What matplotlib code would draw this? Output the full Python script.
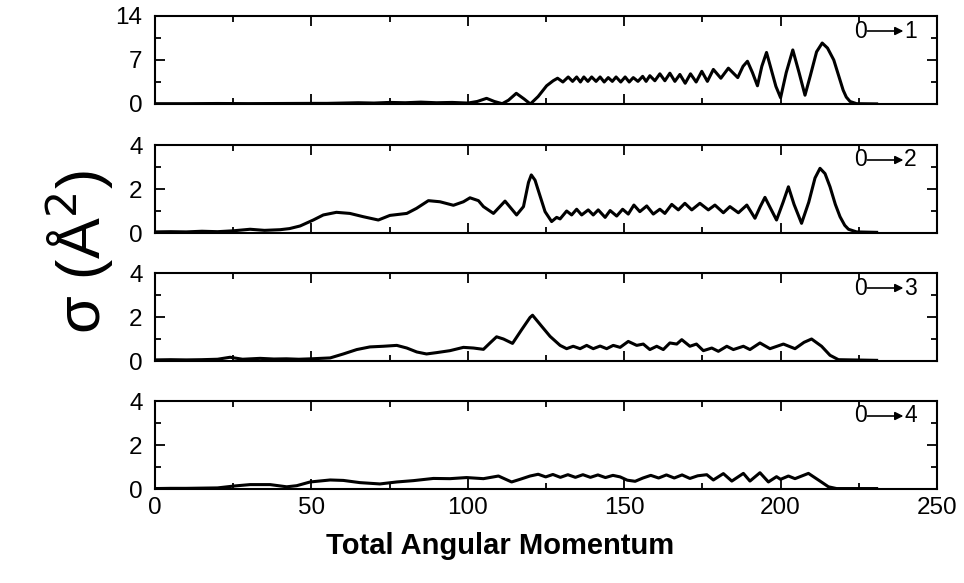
import matplotlib
matplotlib.use("Agg")
import matplotlib.pyplot as plt
from matplotlib.ticker import MultipleLocator

plt.rcParams['font.family'] = ['Liberation Sans', 'DejaVu Sans']

# ---------------- data ----------------
x1 = [0, 10, 20, 30, 40, 50, 55, 60, 65, 70, 75, 80, 85, 90, 95, 100, 103, 106, 108.5, 111,
      113, 115.5, 118, 120, 122.5, 125.2, 127.3,
      128.7, 130.4, 132.1, 133.5, 134.8, 136.0, 137.1, 138.4, 139.6, 141.0, 142.3, 143.6,
      144.9, 146.2, 147.4, 148.9, 150.3, 151.6, 152.9, 154.4, 155.9, 157.0, 158.2, 159.8,
      161.4, 163.0, 164.6, 166.2, 167.8, 169.5, 171.2, 173.0, 174.8, 176.6, 178.5, 180.9,
      183.3, 186.3, 188.0, 189.4, 191.0, 192.6, 194.0, 195.5, 197.0, 198.5, 200.0, 201.8,
      203.9, 205.9, 207.8, 209.5, 211.5, 213.3, 215.0, 217.0, 219.0, 220.0, 221.0, 222.2,
      224.3, 230.7]
y1 = [0.05, 0.05, 0.08, 0.06, 0.08, 0.1, 0.1, 0.15, 0.2, 0.15, 0.25, 0.2, 0.3, 0.2, 0.25, 0.15,
      0.4, 0.9, 0.4, 0.05, 0.6, 1.7, 0.8, 0.0, 1.2, 2.9, 3.7,
      4.1, 3.5, 4.3, 3.6, 4.3, 3.5, 4.3, 3.6, 4.3, 3.6, 4.3, 3.5,
      4.2, 3.6, 4.3, 3.5, 4.3, 3.5, 4.2, 3.6, 4.4, 3.6, 4.5, 3.7,
      4.8, 3.7, 4.9, 3.6, 4.7, 3.3, 4.8, 3.5, 5.2, 3.6, 5.5, 4.1,
      5.7, 4.2, 6.0, 6.8, 5.0, 2.9, 6.0, 8.2, 5.5, 2.8, 1.0, 5.0,
      8.6, 5.0, 1.4, 4.5, 8.3, 9.7, 8.9, 7.0, 3.8, 2.2, 1.1, 0.4,
      0.05, 0.02]

x2 = [0, 5, 10, 15, 20, 25, 30.4, 35, 40, 43, 46.4, 50.6, 53.8, 58, 62.3, 66.6, 71.4, 75.1,
      80.5, 83.6, 87.4, 91.1, 95.4, 98.6, 100.7, 103.4, 105, 108.2, 111.9, 115.6, 117.8,
      119.4, 120.3, 121.5, 122.5, 124.7, 126.8, 128.4, 129.5, 131.6, 133.2, 134.8, 136.4,
      138.5, 140.1, 141.7, 143.9, 145.5, 147.6, 149.5, 151.3, 153.1, 155, 157.2, 159.3,
      161.4, 163, 165.2, 167.3, 169.4, 171.6, 174.2, 176.9, 179, 181.7, 183.8, 186.5,
      189.2, 191.8, 193.5, 195, 196.5, 198.7, 200.8, 202.5, 204.3, 206.7, 209, 211, 212.6,
      214.2, 215.8, 217.5, 219, 220.5, 221.7, 224.3, 230.7]
y2 = [0.05, 0.06, 0.05, 0.08, 0.06, 0.1, 0.17, 0.12, 0.15, 0.2, 0.32, 0.59, 0.82, 0.94, 0.89,
      0.74, 0.59, 0.8, 0.89, 1.12, 1.47, 1.42, 1.26, 1.42, 1.6, 1.47, 1.2, 0.89, 1.45, 0.82,
      1.2, 2.3, 2.64, 2.4, 1.95, 0.97, 0.52, 0.71, 0.64, 1.0, 0.82, 1.08, 0.82, 1.05, 0.82,
      1.05, 0.71, 1.02, 0.77, 1.08, 0.86, 1.27, 0.97, 1.23, 0.86, 1.08, 0.89, 1.3, 1.05,
      1.35, 1.05, 1.35, 1.05, 1.27, 0.92, 1.2, 0.92, 1.27, 0.67, 1.2, 1.62, 1.2, 0.59, 1.4,
      2.1, 1.3, 0.44, 1.4, 2.5, 2.94, 2.7, 2.1, 1.3, 0.74, 0.35, 0.17, 0.05, 0.03]

x3 = [0, 5, 10, 15, 20, 24, 28, 33.6, 38, 42, 46, 50, 56, 60.2, 64.5, 68.7, 73, 77.3, 80.5,
      83.7, 86.8, 90, 94.3, 98.6, 101.8, 105, 107.1, 109.2, 111.4, 114.3, 117.2, 119.9,
      120.7, 123.6, 126.3, 129.5, 131.6, 133.7, 135.9, 138, 140.1, 142.3, 144.4, 146.5,
      148.7, 151.3, 154, 156.1, 158.2, 160.4, 162.5, 164.6, 166.8, 168.4, 171, 173.1,
      175.3, 178, 180.1, 182.8, 184.9, 188.1, 190.2, 193.4, 196.6, 200.9, 204.6, 207.5,
      209.9, 213.1, 215.8, 218.5, 230.7]
y3 = [0.05, 0.06, 0.05, 0.06, 0.08, 0.17, 0.08, 0.12, 0.09, 0.1, 0.08, 0.1, 0.14, 0.32, 0.52,
      0.64, 0.67, 0.71, 0.59, 0.41, 0.32, 0.38, 0.47, 0.62, 0.59, 0.53, 0.82, 1.1, 1.0, 0.8,
      1.42, 1.98, 2.08, 1.58, 1.12, 0.71, 0.56, 0.67, 0.56, 0.71, 0.56, 0.68, 0.56, 0.71,
      0.62, 0.89, 0.71, 0.77, 0.52, 0.67, 0.52, 0.82, 0.77, 0.97, 0.67, 0.77, 0.47, 0.59,
      0.44, 0.67, 0.52, 0.67, 0.52, 0.82, 0.56, 0.77, 0.56, 0.85, 1.0, 0.67, 0.26, 0.06,
      0.03]

x4 = [0, 5, 10, 15, 20, 25.6, 30.4, 36.8, 42.1, 45.3, 49.6, 56, 60.2, 65.5, 71.9, 77.3, 82.6,
      89, 94.3, 99.6, 105, 109.8, 114, 116.7, 119.9, 122.5, 124.9, 127.2, 129.6, 132, 134.4,
      136.8, 139.2, 141.6, 144, 146.4, 148.7, 151, 153.5, 156, 158.5, 161, 163.5, 166,
      168.5, 171, 173.5, 176.4, 178.5, 181.7, 184.4, 188.1, 190.2, 193.4, 196.1, 198.7,
      200, 202.5, 204.6, 208.9, 212.6, 215.3, 217.9, 230.7]
y4 = [0.02, 0.03, 0.03, 0.04, 0.05, 0.14, 0.2, 0.2, 0.1, 0.15, 0.32, 0.41, 0.39, 0.29, 0.23,
      0.32, 0.38, 0.48, 0.47, 0.52, 0.47, 0.59, 0.32, 0.44, 0.59, 0.67, 0.55, 0.66, 0.53,
      0.65, 0.53, 0.65, 0.53, 0.64, 0.52, 0.62, 0.55, 0.4, 0.35, 0.5, 0.62, 0.5, 0.64, 0.5,
      0.64, 0.48, 0.6, 0.65, 0.41, 0.7, 0.36, 0.71, 0.36, 0.74, 0.32, 0.56, 0.44, 0.59,
      0.47, 0.71, 0.36, 0.1, 0.02, 0.02]

series = [(x1, y1), (x2, y2), (x3, y3), (x4, y4)]
panel_labels = ["1", "2", "3", "4"]
y_max = [14, 4, 4, 4]
y_major = [7, 2, 2, 2]
x_ticks = [0, 50, 100, 150, 200, 250]

# ---------------- figure ----------------
fig = plt.figure(figsize=(9.64, 5.83), dpi=100)
W, H = 964.0, 583.0
left, right = 155, 937
bottoms = [104, 233, 361, 489]
ph = 88

for i, ((xs, ys), lab) in enumerate(zip(series, panel_labels)):
    ax = fig.add_axes([left / W, 1 - bottoms[i] / H, (right - left) / W, ph / H])
    ax.plot(xs, ys, color='black', lw=2.2, solid_joinstyle='round')
    ax.set_xlim(0, 250)
    ax.set_ylim(0, y_max[i])
    ax.xaxis.set_major_locator(MultipleLocator(50))
    ax.xaxis.set_minor_locator(MultipleLocator(25))
    ax.yaxis.set_major_locator(MultipleLocator(y_major[i]))
    ax.yaxis.set_minor_locator(MultipleLocator(y_major[i] / 2))
    ax.tick_params(which='both', direction='in', top=True, right=True, width=1.3,
                   labelsize=17.5)
    ax.tick_params(which='major', length=7.5)
    ax.tick_params(which='minor', length=4.5)
    ax.tick_params(axis='y', pad=9)
    ax.tick_params(axis='x', pad=6)
    for sp in ax.spines.values():
        sp.set_linewidth(1.5)
    if i < 3:
        ax.tick_params(labelbottom=False)
    else:
        ax.set_xticks(x_ticks)
    # transition label "0 -> n"
    ty = 1 - 15.0 / ph
    ax.text(0.902, ty, "0", transform=ax.transAxes, ha='center', va='center', fontsize=16.5)
    ax.annotate('', xy=(0.957, ty), xytext=(0.911, ty), xycoords='axes fraction',
                arrowprops=dict(arrowstyle='-|>', color='black', lw=1.2, mutation_scale=12,
                                shrinkA=0, shrinkB=0))
    ax.text(0.966, ty, lab, transform=ax.transAxes, ha='center', va='center', fontsize=16.5)

fig.text(80 / W, 1 - 252 / H, "σ (Å$^2$)", rotation=90, ha='center', va='center',
         fontsize=44)
fig.text(500 / W, 1 - 546 / H, "Total Angular Momentum", ha='center', va='center',
         fontsize=21, fontweight='bold')

fig.savefig("out.png", dpi=100)
